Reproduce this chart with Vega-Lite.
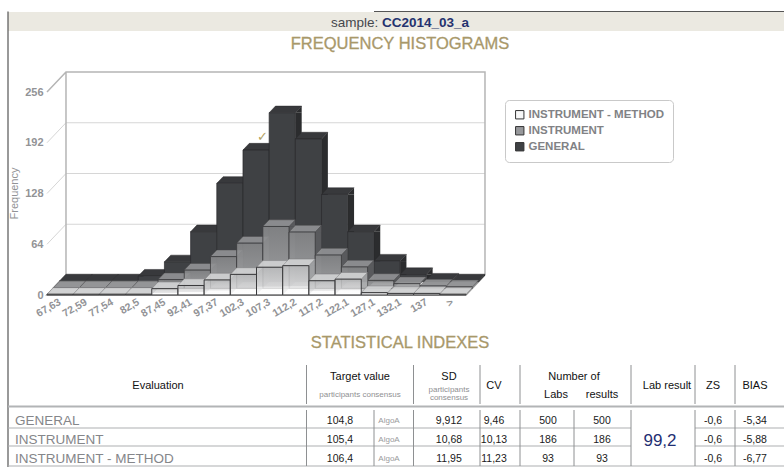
{
"$schema":"https://vega.github.io/schema/vega-lite/v6.json",
"width":784,"height":467,"padding":0,"autosize":{"type":"none"},"background":"white",
"config":{"view":{"stroke":null},"font":"Liberation Sans"},
"datasets":{
"bars":[
{"bin":"67,63","series":"GENERAL","value":1},{"bin":"72,59","series":"GENERAL","value":1},{"bin":"77,54","series":"GENERAL","value":1},{"bin":"82,5","series":"GENERAL","value":7},{"bin":"87,45","series":"GENERAL","value":25},{"bin":"92,41","series":"GENERAL","value":63},{"bin":"97,37","series":"GENERAL","value":124},{"bin":"102,3","series":"GENERAL","value":166},{"bin":"107,3","series":"GENERAL","value":213},{"bin":"112,2","series":"GENERAL","value":180},{"bin":"117,2","series":"GENERAL","value":110},{"bin":"122,1","series":"GENERAL","value":63},{"bin":"127,1","series":"GENERAL","value":26},{"bin":"132,1","series":"GENERAL","value":9},{"bin":"137","series":"GENERAL","value":2},{"bin":">","series":"GENERAL","value":1},
{"bin":"67,63","series":"INSTRUMENT","value":1},{"bin":"72,59","series":"INSTRUMENT","value":1},{"bin":"77,54","series":"INSTRUMENT","value":1},{"bin":"82,5","series":"INSTRUMENT","value":1},{"bin":"87,45","series":"INSTRUMENT","value":11},{"bin":"92,41","series":"INSTRUMENT","value":23},{"bin":"97,37","series":"INSTRUMENT","value":40},{"bin":"102,3","series":"INSTRUMENT","value":57},{"bin":"107,3","series":"INSTRUMENT","value":78},{"bin":"112,2","series":"INSTRUMENT","value":71},{"bin":"117,2","series":"INSTRUMENT","value":42},{"bin":"122,1","series":"INSTRUMENT","value":27},{"bin":"127,1","series":"INSTRUMENT","value":10},{"bin":"132,1","series":"INSTRUMENT","value":6},{"bin":"137","series":"INSTRUMENT","value":3},{"bin":">","series":"INSTRUMENT","value":2},
{"bin":"67,63","series":"INSTRUMENT - METHOD","value":1},{"bin":"72,59","series":"INSTRUMENT - METHOD","value":1},{"bin":"77,54","series":"INSTRUMENT - METHOD","value":1},{"bin":"82,5","series":"INSTRUMENT - METHOD","value":1},{"bin":"87,45","series":"INSTRUMENT - METHOD","value":8},{"bin":"92,41","series":"INSTRUMENT - METHOD","value":12},{"bin":"97,37","series":"INSTRUMENT - METHOD","value":19},{"bin":"102,3","series":"INSTRUMENT - METHOD","value":26},{"bin":"107,3","series":"INSTRUMENT - METHOD","value":35},{"bin":"112,2","series":"INSTRUMENT - METHOD","value":37},{"bin":"117,2","series":"INSTRUMENT - METHOD","value":18},{"bin":"122,1","series":"INSTRUMENT - METHOD","value":20},{"bin":"127,1","series":"INSTRUMENT - METHOD","value":3},{"bin":"132,1","series":"INSTRUMENT - METHOD","value":2},{"bin":"137","series":"INSTRUMENT - METHOD","value":2},{"bin":">","series":"INSTRUMENT - METHOD","value":1}
],
"ticks":[{"bin":"67,63","value":0},{"bin":"67,63","value":64},{"bin":"67,63","value":128},{"bin":"67,63","value":192},{"bin":"67,63","value":256}],
"lines":[
{"kind":"frame","col":8,"col2":29,"row":1,"row2":1},
{"kind":"frame","col":1,"col2":1,"row":1,"row2":23},
{"kind":"rowline","col":1,"col2":22,"row":17,"row2":17},{"kind":"rowline","col":25,"col2":29,"row":17,"row2":17},
{"kind":"rowline","col":1,"col2":22,"row":20,"row2":20},{"kind":"rowline","col":25,"col2":29,"row":20,"row2":20},
{"kind":"rowline","col":1,"col2":29,"row":22,"row2":22},
{"kind":"thick","col":1,"col2":29,"row":14,"row2":14},
{"kind":"sep","col":4,"col2":4,"row":7,"row2":13},{"kind":"sep","col":13,"col2":13,"row":7,"row2":13},{"kind":"sep","col":15,"col2":15,"row":7,"row2":13},{"kind":"sep","col":17,"col2":17,"row":7,"row2":13},{"kind":"sep","col":22,"col2":22,"row":7,"row2":13},{"kind":"sep","col":25,"col2":25,"row":7,"row2":13},{"kind":"sep","col":27,"col2":27,"row":7,"row2":13},
{"kind":"sep","col":4,"col2":4,"row":15,"row2":22},{"kind":"sep","col":8,"col2":8,"row":15,"row2":22},{"kind":"sep","col":13,"col2":13,"row":15,"row2":22},{"kind":"sep","col":15,"col2":15,"row":15,"row2":22},{"kind":"sep","col":17,"col2":17,"row":15,"row2":22},{"kind":"sep","col":20,"col2":20,"row":15,"row2":22},{"kind":"sep","col":22,"col2":22,"row":15,"row2":22},{"kind":"sep","col":25,"col2":25,"row":15,"row2":22},{"kind":"sep","col":27,"col2":27,"row":15,"row2":22}
],
"cells":[
{"role":"sampleLabel","text":"sample:","col":5,"row":3},
{"role":"sampleCode","text":"CC2014_03_a","col":9,"row":3},
{"role":"title","text":"FREQUENCY HISTOGRAMS","col":12,"row":5},
{"role":"title","text":"STATISTICAL INDEXES","col":12,"row":6},
{"role":"head","text":"Evaluation","col":3,"row":9},
{"role":"head","text":"Target value","col":7,"row":8},
{"role":"sub","text":"participants consensus","col":7,"row":11},
{"role":"head","text":"SD","col":14,"row":8},
{"role":"sub","text":"participants","col":14,"row":10},
{"role":"sub","text":"consensus","col":14,"row":12},
{"role":"head","text":"CV","col":16,"row":9},
{"role":"head","text":"Number of","col":20,"row":8},
{"role":"head","text":"Labs","col":19,"row":11},
{"role":"head","text":"results","col":21,"row":11},
{"role":"head","text":"Lab result","col":24,"row":9},
{"role":"head","text":"ZS","col":26,"row":9},
{"role":"head","text":"BIAS","col":28,"row":9},
{"role":"label","text":"GENERAL","col":2,"row":16},
{"role":"label","text":"INSTRUMENT","col":2,"row":18},
{"role":"label","text":"INSTRUMENT - METHOD","col":2,"row":21},
{"role":"val","text":"104,8","col":6,"row":16},{"role":"algo","text":"AlgoA","col":10,"row":16},{"role":"val","text":"9,912","col":14,"row":16},{"role":"val","text":"9,46","col":16,"row":16},{"role":"val","text":"500","col":18,"row":16},{"role":"val","text":"500","col":21,"row":16},{"role":"val","text":"-0,6","col":26,"row":16},{"role":"val","text":"-5,34","col":28,"row":16},
{"role":"val","text":"105,4","col":6,"row":18},{"role":"algo","text":"AlgoA","col":10,"row":18},{"role":"val","text":"10,68","col":14,"row":18},{"role":"val","text":"10,13","col":16,"row":18},{"role":"val","text":"186","col":18,"row":18},{"role":"val","text":"186","col":21,"row":18},{"role":"val","text":"-0,6","col":26,"row":18},{"role":"val","text":"-5,88","col":28,"row":18},
{"role":"val","text":"106,4","col":6,"row":21},{"role":"algo","text":"AlgoA","col":10,"row":21},{"role":"val","text":"11,95","col":14,"row":21},{"role":"val","text":"11,23","col":16,"row":21},{"role":"val","text":"93","col":18,"row":21},{"role":"val","text":"93","col":21,"row":21},{"role":"val","text":"-0,6","col":26,"row":21},{"role":"val","text":"-6,77","col":28,"row":21},
{"role":"lab","text":"99,2","col":23,"row":19}
]
},
"layer":[
{
"encoding":{
"x":{"field":"bin","type":"ordinal","title":null,
"scale":{"type":"band","domain":["67,63","72,59","77,54","82,5","87,45","92,41","97,37","102,3","107,3","112,2","117,2","122,1","127,1","132,1","137",">"],"range":[47,466],"paddingInner":0,"paddingOuter":0},
"axis":{"orient":"bottom","offset":-172,"domain":false,"ticks":false,"labelAngle":-30,"labelAlign":"right","labelBaseline":"middle","labelPadding":6,"labelColor":"#929396","labelFontSize":10.5,"labelFontWeight":"bold","labelFont":"Liberation Sans","grid":false}},
"y":{"field":"value","type":"quantitative","title":"Frequency",
"scale":{"domain":[0,256],"range":[295,92],"nice":false},
"axis":{"orient":"left","offset":-43,"domain":false,"ticks":false,"grid":false,"values":[0,64,128,192,256],"labelPadding":0,"labelColor":"#929396","labelFontSize":11,"labelFontWeight":"bold","labelFont":"Liberation Sans","titleFont":"Liberation Sans","titleColor":"#929396","titleFontSize":11,"titleFontWeight":"normal","titleX":-24,"titleY":193,"titleAngle":-90}}
},
"layer":[
{"data":{"name":"ticks"},"transform":[{"filter":"datum.value>0 && datum.value<256"}],"mark":{"type":"point","shape":"M-13.1 0 L5.9 -20 H424.9","size":4,"filled":false,"stroke":"#d6d6d6","strokeWidth":1,"opacity":1}},
{"data":{"name":"ticks"},"transform":[{"filter":"datum.value==256"}],"mark":{"type":"point","shape":"M-13.1 0 L5.9 -20 H424.9 V183 M5.9 -20 V183 H424.9","size":4,"filled":false,"stroke":"#b5b5b5","strokeWidth":1.5,"opacity":1}},
{"data":{"name":"ticks"},"transform":[{"filter":"datum.value==0"}],"mark":{"type":"point","shape":"M5.9 -20 L-13.1 0 H405.9 L424.9 -20","size":4,"filled":false,"stroke":"#9a9a9a","strokeWidth":1.5,"opacity":1}},

{"data":{"name":"bars"},"transform":[{"filter":"datum.series==='GENERAL' && datum.value>=9"}],"mark":{"type":"bar","width":6.33,"xOffset":28.93,"yOffset":-13.33,"y2Offset":-20,"fill":"#2b2c2e"},"encoding":{"y2":{"datum":0}}},
{"data":{"name":"bars"},"transform":[{"filter":"datum.series==='GENERAL' && datum.value>=9"}],"mark":{"type":"point","shape":"M13.1 0 L19.43 0 L19.43 -6.67 Z","size":4,"filled":true,"fill":"#2b2c2e","opacity":1,"xOffset":12.67,"yOffset":-13.33}},
{"data":{"name":"bars"},"transform":[{"filter":"datum.series==='GENERAL' && datum.value>=9"}],"mark":{"type":"point","shape":"M13.1 0 L13.1 -6.67 L19.43 -6.67 Z","size":4,"filled":true,"fill":"#2b2c2e","opacity":1,"xOffset":12.67,"yOffset":-13.33},"encoding":{"y":{"datum":0}}},
{"data":{"name":"bars"},"transform":[{"filter":"datum.series==='GENERAL' && datum.value<9"}],"mark":{"type":"point","shape":"M13.1 1 L19.43 -5.67 V-6.67 L13.1 0 Z","size":4,"filled":true,"fill":"#2b2c2e","opacity":1,"xOffset":12.67,"yOffset":-13.33}},
{"data":{"name":"bars"},"transform":[{"filter":"datum.series==='GENERAL'"}],"mark":{"type":"point","shape":"M-13.1 0 L13.1 0 L19.43 -6.67 L-6.77 -6.67 Z","size":4,"filled":true,"fill":"#38393c","stroke":"#2a2a2c","strokeWidth":0.5,"opacity":1,"xOffset":12.67,"yOffset":-13.33}},
{"data":{"name":"bars"},"transform":[{"filter":"datum.series==='GENERAL'"}],"mark":{"type":"bar","stroke":"#2a2a2c","strokeWidth":0.7,"opacity":1,"xOffset":12.67,"x2Offset":12.67,"yOffset":-13.33,"y2Offset":-13.33},"encoding":{"y2":{"datum":0},"color":{"field":"series","type":"nominal","scale":{"domain":["INSTRUMENT - METHOD","INSTRUMENT","GENERAL"],"range":["#f7f7f7","#97989b","#3f4144"]},"legend":{"title":null,"orient":"none","legendX":505,"legendY":100,"fillColor":"white","strokeColor":"#c9c9c9","cornerRadius":4,"padding":9,"symbolType":"square","symbolSize":70,"symbolStrokeColor":"#333333","symbolStrokeWidth":1,"symbolOpacity":1,"labelFont":"Liberation Sans","labelFontSize":11.5,"labelFontWeight":"bold","labelColor":"#818285","rowPadding":3,"labelOffset":3}}}},

{"data":{"name":"bars"},"transform":[{"filter":"datum.series==='INSTRUMENT' && datum.value>=9"}],"mark":{"type":"bar","width":6.33,"xOffset":22.6,"yOffset":-6.67,"y2Offset":-13.33,"fill":"#5e5f61","opacity":0.85},"encoding":{"y2":{"datum":0}}},
{"data":{"name":"bars"},"transform":[{"filter":"datum.series==='INSTRUMENT' && datum.value>=9"}],"mark":{"type":"point","shape":"M13.1 0 L19.43 0 L19.43 -6.67 Z","size":4,"filled":true,"fill":"#5e5f61","opacity":0.85,"xOffset":6.33,"yOffset":-6.67}},
{"data":{"name":"bars"},"transform":[{"filter":"datum.series==='INSTRUMENT' && datum.value>=9"}],"mark":{"type":"point","shape":"M13.1 0 L13.1 -6.67 L19.43 -6.67 Z","size":4,"filled":true,"fill":"#5e5f61","opacity":0.85,"xOffset":6.33,"yOffset":-6.67},"encoding":{"y":{"datum":0}}},
{"data":{"name":"bars"},"transform":[{"filter":"datum.series==='INSTRUMENT' && datum.value<9"}],"mark":{"type":"point","shape":"M13.1 1 L19.43 -5.67 V-6.67 L13.1 0 Z","size":4,"filled":true,"fill":"#5e5f61","opacity":0.85,"xOffset":6.33,"yOffset":-6.67}},
{"data":{"name":"bars"},"transform":[{"filter":"datum.series==='INSTRUMENT'"}],"mark":{"type":"point","shape":"M-13.1 0 L13.1 0 L19.43 -6.67 L-6.77 -6.67 Z","size":4,"filled":true,"fill":"#8f9092","stroke":"#4a4a4c","strokeWidth":0.5,"opacity":0.95,"xOffset":6.33,"yOffset":-6.67}},
{"data":{"name":"bars"},"transform":[{"filter":"datum.series==='INSTRUMENT'"}],"mark":{"type":"bar","stroke":"#3a3a3c","strokeWidth":0.8,"xOffset":6.33,"x2Offset":6.33,"yOffset":-6.67,"y2Offset":-6.67,"fill":{"gradient":"linear","x1":0,"y1":0,"x2":0,"y2":1,"stops":[{"offset":0,"color":"#88898b"},{"offset":1,"color":"#a9aaac"}]},"fillOpacity":0.88},"encoding":{"y2":{"datum":0}}},

{"data":{"name":"bars"},"transform":[{"filter":"datum.series==='INSTRUMENT - METHOD' && datum.value>=9"}],"mark":{"type":"bar","width":6.33,"xOffset":16.27,"y2Offset":-6.67,"fill":"#a9aaac","opacity":0.6},"encoding":{"y2":{"datum":0}}},
{"data":{"name":"bars"},"transform":[{"filter":"datum.series==='INSTRUMENT - METHOD' && datum.value>=9"}],"mark":{"type":"point","shape":"M13.1 0 L19.43 0 L19.43 -6.67 Z","size":4,"filled":true,"fill":"#a9aaac","opacity":0.6}},
{"data":{"name":"bars"},"transform":[{"filter":"datum.series==='INSTRUMENT - METHOD' && datum.value>=9"}],"mark":{"type":"point","shape":"M13.1 0 L13.1 -6.67 L19.43 -6.67 Z","size":4,"filled":true,"fill":"#a9aaac","opacity":0.6},"encoding":{"y":{"datum":0}}},
{"data":{"name":"bars"},"transform":[{"filter":"datum.series==='INSTRUMENT - METHOD'"}],"mark":{"type":"point","shape":"M-13.1 0 L13.1 0 L19.43 -6.67 L-6.77 -6.67 Z","size":4,"filled":true,"fill":"#cfd0d1","stroke":"#7a7a7c","strokeWidth":0.5,"opacity":0.95}},
{"data":{"name":"bars"},"transform":[{"filter":"datum.series==='INSTRUMENT - METHOD'"}],"mark":{"type":"bar","stroke":"#3a3a3c","strokeWidth":1,"fill":{"gradient":"linear","x1":0,"y1":0,"x2":0,"y2":1,"stops":[{"offset":0,"color":"#c2c3c4"},{"offset":0.68,"color":"#e0e0e1"},{"offset":0.72,"color":"#fafafa"},{"offset":1,"color":"#ffffff"}]},"fillOpacity":0.75},"encoding":{"y2":{"datum":0}}},

{"data":{"values":[{"bin":"102,3","value":199,"mark":"✓"}]},"mark":{"type":"text","font":"DejaVu Sans","fontSize":13,"fontWeight":"bold","fill":"#b29f63","xOffset":19,"baseline":"middle"},"encoding":{"text":{"field":"mark"}}}
]
},
{
"encoding":{
"x":{"field":"col","type":"quantitative","axis":null,"scale":{"domain":[0,1,2,3,4,5,6,7,8,9,10,11,12,13,14,15,16,17,18,19,20,21,22,23,24,25,26,27,28,29],"range":[0,8,15,158,306.5,331,340,360,374,382,389,390,400,413.5,449,480,494,520,548,556,574,602,631,660,667,695,713,735,755,784],"nice":false,"zero":false}},
"y":{"field":"row","type":"quantitative","axis":null,"scale":{"domain":[0,1,2,3,4,5,6,7,8,9,10,11,12,13,14,15,16,17,18,19,20,21,22,23],"range":[0,11.5,12,23,31,44,343,365,376.5,386,390,394.5,398,404,406.5,410,421,428,440,441,446,459,466,467],"nice":false,"zero":false}}
},
"layer":[
{"data":{"values":[{"col":1,"col2":29,"row":2,"row2":4}]},"mark":{"type":"rect","fill":"#ebe9e1"},"encoding":{"x2":{"field":"col2"},"y2":{"field":"row2"}}},
{"data":{"name":"lines"},"transform":[{"filter":"datum.kind==='frame'"}],"mark":{"type":"rule","stroke":"#555555","strokeWidth":1.2},"encoding":{"x2":{"field":"col2"},"y2":{"field":"row2"}}},
{"data":{"name":"lines"},"transform":[{"filter":"datum.kind==='rowline'"}],"mark":{"type":"rule","stroke":"#adafb1","strokeWidth":1.2},"encoding":{"x2":{"field":"col2"},"y2":{"field":"row2"}}},
{"data":{"name":"lines"},"transform":[{"filter":"datum.kind==='thick'"}],"mark":{"type":"rule","stroke":"#b2b4b6","strokeWidth":1.8},"encoding":{"x2":{"field":"col2"},"y2":{"field":"row2"}}},
{"data":{"name":"lines"},"transform":[{"filter":"datum.kind==='sep'"}],"mark":{"type":"rule","stroke":"#8e9092","strokeWidth":1},"encoding":{"x2":{"field":"col2"},"y2":{"field":"row2"}}},
{"data":{"name":"cells"},"transform":[{"filter":"datum.role==='sampleLabel'"}],"mark":{"type":"text","align":"left","baseline":"middle","fontSize":13.5,"fill":"#45474c"},"encoding":{"text":{"field":"text"}}},
{"data":{"name":"cells"},"transform":[{"filter":"datum.role==='sampleCode'"}],"mark":{"type":"text","align":"left","baseline":"middle","fontSize":13.5,"fontWeight":"bold","fill":"#25336f"},"encoding":{"text":{"field":"text"}}},
{"data":{"name":"cells"},"transform":[{"filter":"datum.role==='title'"}],"mark":{"type":"text","align":"center","baseline":"middle","fontSize":16.5,"fill":"#a8986a","stroke":"#a8986a","strokeWidth":0.3},"encoding":{"text":{"field":"text"}}},
{"data":{"name":"cells"},"transform":[{"filter":"datum.role==='head'"}],"mark":{"type":"text","align":"center","baseline":"middle","fontSize":11,"fill":"#111111"},"encoding":{"text":{"field":"text"}}},
{"data":{"name":"cells"},"transform":[{"filter":"datum.role==='sub'"}],"mark":{"type":"text","align":"center","baseline":"middle","fontSize":8,"fill":"#8f9092"},"encoding":{"text":{"field":"text"}}},
{"data":{"name":"cells"},"transform":[{"filter":"datum.role==='label'"}],"mark":{"type":"text","align":"left","baseline":"middle","fontSize":13.5,"fill":"#85868a"},"encoding":{"text":{"field":"text"}}},
{"data":{"name":"cells"},"transform":[{"filter":"datum.role==='val'"}],"mark":{"type":"text","align":"center","baseline":"middle","fontSize":10.5,"fill":"#1a1a1a"},"encoding":{"text":{"field":"text"}}},
{"data":{"name":"cells"},"transform":[{"filter":"datum.role==='algo'"}],"mark":{"type":"text","align":"center","baseline":"middle","fontSize":8,"fill":"#9a9b9d"},"encoding":{"text":{"field":"text"}}},
{"data":{"name":"cells"},"transform":[{"filter":"datum.role==='lab'"}],"mark":{"type":"text","align":"center","baseline":"middle","fontSize":17,"fill":"#1f2f73"},"encoding":{"text":{"field":"text"}}}
]
}
],
"resolve":{"scale":{"x":"independent","y":"independent","color":"independent"}}
}
